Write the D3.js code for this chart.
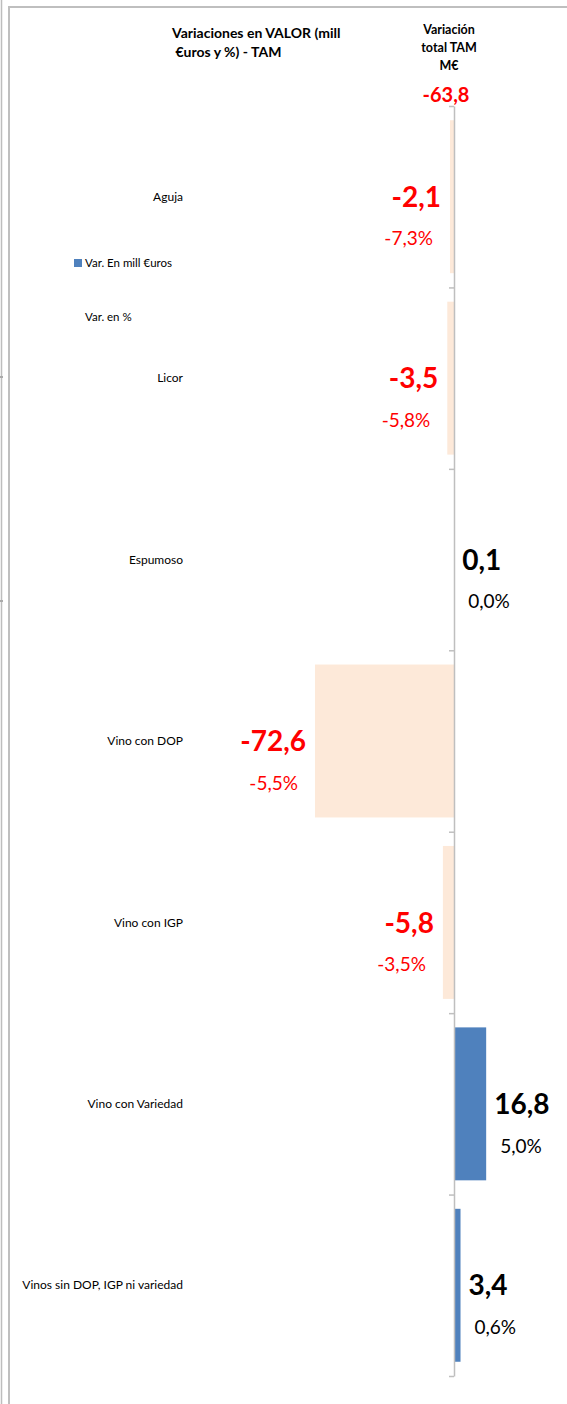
<!DOCTYPE html>
<html>
<head>
<meta charset="utf-8">
<script src="https://cdn.jsdelivr.net/npm/d3@7"></script>
<style>
  html, body { margin: 0; padding: 0; background: #fff; }
  svg { display: block; font-family: Lato, "Open Sans", sans-serif; }
</style>
</head>
<body>
<svg id="chart"></svg>
<script>
// Dati: variazioni in valore (mill €) e in % - TAM
const categorias = ["Aguja", "Licor", "Espumoso", "Vino con DOP", "Vino con IGP",
                    "Vino con Variedad", "Vinos sin DOP, IGP ni variedad"];
const varMillEuros = [-2.1, -3.5, 0.1, -72.6, -5.8, 16.8, 3.4];
const varPorcentaje = [-7.3, -5.8, 0.0, -5.5, -3.5, 5.0, 0.6];
const totalTAM = -63.8;
const tituloLineas = ["Variaciones en VALOR (mill", " €uros y %) - TAM"];
const cabeceraTotal = ["Variación", "total TAM", "M€"];
const leyenda = ["Var. En mill €uros", "Var. en %"];

const width = 567, height = 1404;
const colPos = "#4F81BD", colNeg = "#FDE9D9";
const rojo = "#FF0000";

const es = d3.formatLocale({ decimal: ",", thousands: ".", grouping: [3], currency: ["", " €"], minus: "-" });
const fmtVal = es.format(".1f");
const fmtPct = v => es.format(".1f")(v) + "%";

const svg = d3.select("#chart").attr("width", width).attr("height", height);

// Cornice (bordi del foglio)
svg.append("line").attr("x1", 1.5).attr("x2", 1.5).attr("y1", 0).attr("y2", height)
  .attr("stroke", "#BDBDBD").attr("stroke-width", 1.5);
[377, 601].forEach(y => svg.append("rect").attr("x", 0).attr("y", y - 1)
  .attr("width", 3).attr("height", 2).attr("fill", "#AAAAAA"));
svg.append("rect").attr("x", 9).attr("y", 7).attr("width", 700).attr("height", 1500)
  .attr("fill", "none").attr("stroke", "#BFBFBF").attr("stroke-width", 2);

// Scale
const x = d3.scaleLinear().domain([-80, 20]).range([300.8, 492.3]);
const y = d3.scaleBand().domain(categorias).range([106, 1376])
  .paddingInner(0.157).paddingOuter(0.0785);
const yTicks = d3.scaleLinear().domain([0, categorias.length]).range([106, 1376]);

const data = categorias.map((c, i) => ({ cat: c, val: varMillEuros[i], pct: varPorcentaje[i] }));

// Barre
svg.append("g").selectAll("rect")
  .data(data)
  .enter()
  .append("rect")
    .attr("x", d => Math.min(x(0), x(d.val)))
    .attr("width", d => Math.abs(x(d.val) - x(0)))
    .attr("y", d => y(d.cat))
    .attr("height", y.bandwidth())
    .attr("fill", d => d.val < 0 ? colNeg : colPos);

// Asse verticale (zero)
const axis = svg.append("g")
  .attr("transform", `translate(${x(0)},0)`)
  .call(d3.axisLeft(yTicks).ticks(categorias.length).tickFormat("").tickSize(5).tickSizeOuter(0));
axis.select(".domain").attr("stroke", "#BFBFBF").attr("stroke-width", 1.5);
axis.selectAll(".tick line").attr("stroke", "#BFBFBF").attr("stroke-width", 1.5);

// Etichette categorie
svg.append("g").selectAll("text")
  .data(data)
  .enter()
  .append("text")
    .attr("x", 183)
    .attr("y", d => y(d.cat) + y.bandwidth() / 2)
    .attr("dy", "0.35em")
    .attr("text-anchor", "end")
    .attr("font-size", "12px")
    .attr("fill", "#000")
    .text(d => d.cat);

// Etichette valori
const cy = d => y(d.cat) + y.bandwidth() / 2;
svg.append("g").selectAll("text")
  .data(data)
  .enter()
  .append("text")
    .attr("x", d => d.val < 0 ? x(d.val) - 9 : x(d.val) + 8)
    .attr("y", d => cy(d))
    .attr("dy", "0.36em")
    .attr("text-anchor", d => d.val < 0 ? "end" : "start")
    .attr("font-size", "28px")
    .attr("font-weight", "bold")
    .attr("fill", d => d.val < 0 ? rojo : "#000")
    .text(d => fmtVal(d.val));

svg.append("g").selectAll("text")
  .data(data)
  .enter()
  .append("text")
    .attr("x", d => d.val < 0 ? x(d.val) - 17 : x(d.val) + 14)
    .attr("y", d => cy(d) + 42)
    .attr("dy", "0.35em")
    .attr("text-anchor", d => d.val < 0 ? "end" : "start")
    .attr("font-size", "19px")
    .attr("fill", d => d.val < 0 ? rojo : "#000")
    .text(d => fmtPct(d.pct));

// Titolo
svg.append("g").selectAll("text")
  .data(tituloLineas)
  .enter()
  .append("text")
    .attr("x", 172)
    .attr("y", (d, i) => 33 + i * 19)
    .attr("dy", "0.35em")
    .attr("font-size", "14px")
    .attr("font-weight", "bold")
    .attr("xml:space", "preserve")
    .text(d => d);

// Intestazione variazione totale
svg.append("g").selectAll("text")
  .data(cabeceraTotal)
  .enter()
  .append("text")
    .attr("x", 449)
    .attr("y", (d, i) => 30 + i * 18)
    .attr("dy", "0.35em")
    .attr("text-anchor", "middle")
    .attr("font-size", "12.5px")
    .attr("font-weight", "bold")
    .text(d => d);

svg.append("text")
  .attr("x", 446)
  .attr("y", 95)
  .attr("dy", "0.36em")
  .attr("text-anchor", "middle")
  .attr("font-size", "20px")
  .attr("font-weight", "bold")
  .attr("fill", rojo)
  .text(fmtVal(totalTAM));

// Legenda
const leg = svg.append("g");
leg.append("rect").attr("x", 74).attr("y", 259).attr("width", 8).attr("height", 8).attr("fill", colPos);
leg.selectAll("text")
  .data(leyenda)
  .enter()
  .append("text")
    .attr("x", 85)
    .attr("y", (d, i) => 263 + i * 54)
    .attr("dy", "0.35em")
    .attr("font-size", "11.5px")
    .text(d => d);
</script>
</body>
</html>
